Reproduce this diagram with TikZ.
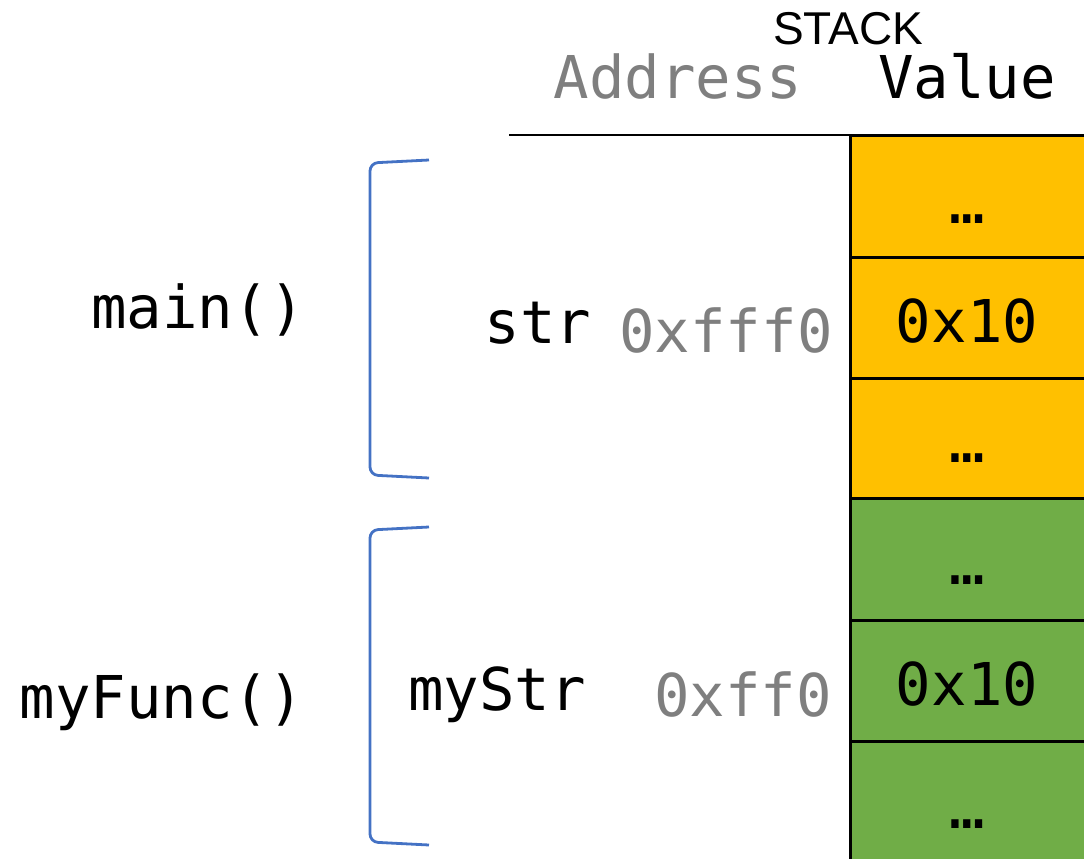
\documentclass[tikz,border=0pt]{standalone}
\usepackage{fontspec}
\setmonofont{DejaVu Sans Mono}
\newfontfamily\stackfont{Liberation Sans}
\definecolor{yel}{HTML}{FFC000}
\definecolor{grn}{HTML}{70AD47}
\definecolor{addr}{HTML}{7F7F7F}
\definecolor{brk}{HTML}{4472C4}
\tikzset{
  cell/.style={draw=black, line width=3pt, minimum width=236pt, inner sep=0pt, outer sep=0pt},
  mono/.style={font=\ttfamily\fontsize{59}{62}\selectfont, inner sep=0pt, anchor=base},
  gray/.style={mono, text=addr},
  brace/.style={draw=brk, line width=2.8pt, rounded corners=8pt},
}
\begin{document}
\begin{tikzpicture}[x=1pt,y=-1pt]
\useasboundingbox (0,0) rectangle (1084,859);
\clip (0,0) rectangle (1084,859);
% stack cells
\node[cell, fill=yel, minimum height=122pt] (c1) at (968,196) {};
\node[cell, fill=yel, minimum height=121pt] (c2) at (968,317.5) {};
\node[cell, fill=yel, minimum height=120pt] (c3) at (968,438) {};
\node[cell, fill=grn, minimum height=122pt] (c4) at (968,559) {};
\node[cell, fill=grn, minimum height=121pt] (c5) at (968,680.5) {};
\node[cell, fill=grn, minimum height=122pt] (c6) at (968,802) {};
% header line
\coordinate (hl) at (509,135);
\coordinate (hr) at (1090,135);
\draw[line width=2.5pt] (hl) -- (hr);
% cell texts
\node[mono] (t1) at (967,223) {…};
\node[mono] (t2) at (967,342) {0x10};
\node[mono] (t3) at (967,462) {…};
\node[mono] (t4) at (967,584) {…};
\node[mono] (t5) at (967,705) {0x10};
\node[mono] (t6) at (967,828) {…};
% headers
\node[font=\stackfont\fontsize{46}{48}\selectfont, inner sep=0pt, anchor=base] (stack) at (848,45) {STACK};
\node[gray] (address) at (678,99) {Address};
\node[mono] (value) at (967,99) {Value};
% addresses and names
\node[gray] (a1) at (726,352) {0xfff0};
\node[gray] (a2) at (743,716) {0xff0};
\node[mono] (v1) at (538,343) {str};
\node[mono] (v2) at (497,710) {myStr};
\node[mono] (f1) at (198,328) {main()};
\node[mono] (f2) at (162,718) {myFunc()};
% brackets
\draw[brace] (429,160) -- (370,163) -- (370,475) -- (429,478);
\draw[brace] (429,527) -- (370,530) -- (370,842) -- (429,845);
\end{tikzpicture}
\end{document}
